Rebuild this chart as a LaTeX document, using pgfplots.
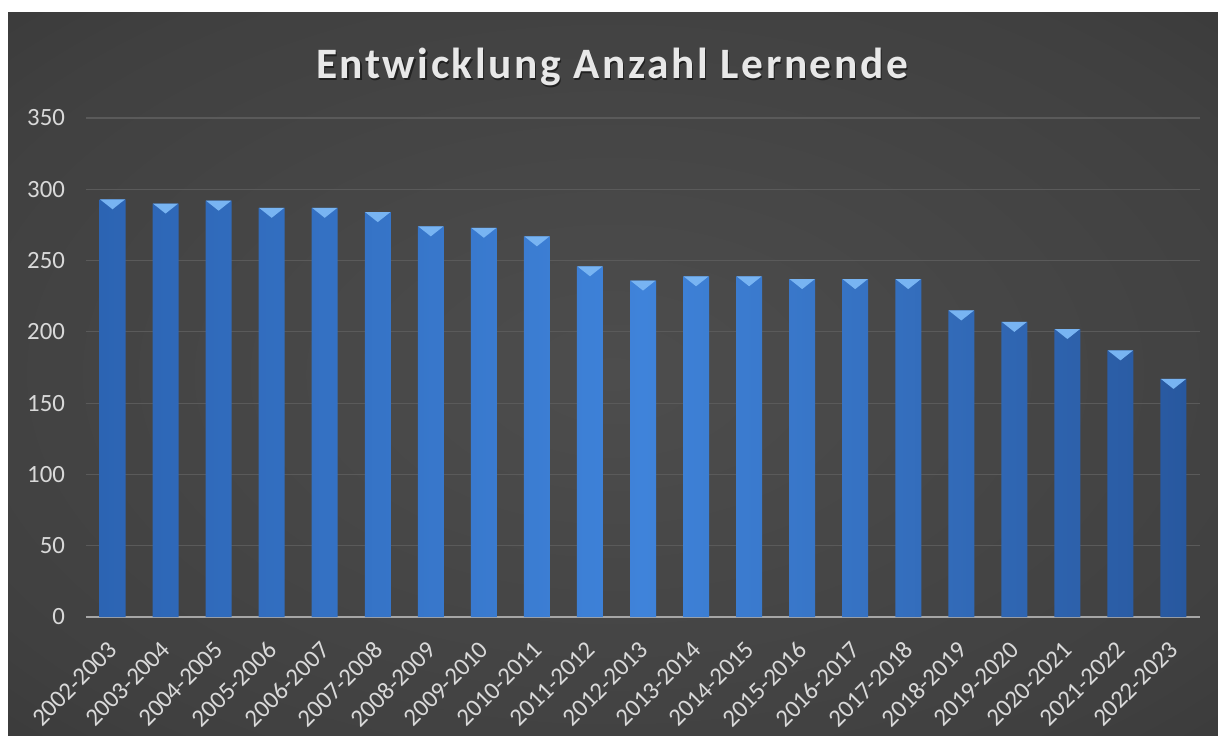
\documentclass[border=0pt]{standalone}
\usepackage{fontspec}
\setmainfont{Carlito}
\usepackage{pgfplots}
\pgfplotsset{compat=1.18}
\definecolor{bgin}{HTML}{4D4D4D}
\definecolor{bgmid}{HTML}{404040}
\definecolor{bgout}{HTML}{1F1F1F}
\definecolor{gridc}{HTML}{5A5A5A}
\definecolor{axisc}{HTML}{A6A6A6}
\definecolor{tickc}{HTML}{D9D9D9}
\definecolor{barL}{HTML}{2C64B3}
\definecolor{barM}{HTML}{3F83DA}
\definecolor{barR}{HTML}{28589F}
\definecolor{bevelc}{HTML}{78B4F2}
\pgfdeclareradialshading{bgshade}{\pgfpoint{0bp}{0bp}}{color(0bp)=(bgin); color(30bp)=(bgmid); color(71bp)=(bgout)}
\pgfdeclareplotmark{bevel}{%
  \pgfpathmoveto{\pgfqpoint{-6.3pt}{0pt}}%
  \pgfpathlineto{\pgfqpoint{6.3pt}{0pt}}%
  \pgfpathlineto{\pgfqpoint{0pt}{-5pt}}%
  \pgfpathclose
  \pgfusepathqfill}
\begin{document}
\begin{tikzpicture}
\useasboundingbox (0,0) rectangle (609pt,367.5pt);
\fill[white] (0,0) rectangle (609pt,367.5pt);
\shade[shading=bgshade] (4pt,0) rectangle (609pt,361pt);
\node[text=black, opacity=0.5, font=\fontsize{21.7}{26}\selectfont\bfseries\addfontfeatures{LetterSpace=6}, anchor=base] at (306.6pt,327.4pt) {Entwicklung Anzahl Lernende};
\node[text=tickc!60!white, font=\fontsize{21.7}{26}\selectfont\bfseries\addfontfeatures{LetterSpace=6}, anchor=base] at (306pt,328pt) {Entwicklung Anzahl Lernende};
\begin{axis}[
  scale only axis,
  width=557pt, height=249.5pt,
  at={(43pt,59pt)}, anchor=south west,
  xmin=-0.5, xmax=20.5,
  ymin=0, ymax=350,
  ytick={0,50,...,350},
  xtick={0,...,20},
  xticklabels={2002-2003,2003-2004,2004-2005,2005-2006,2006-2007,2007-2008,2008-2009,2009-2010,2010-2011,2011-2012,2012-2013,2013-2014,2014-2015,2015-2016,2016-2017,2017-2018,2018-2019,2019-2020,2020-2021,2021-2022,2022-2023},
  /pgf/number format/assume math mode=true,
  ticklabel style={text=tickc, font=\fontsize{12.4}{14}\selectfont},
  yticklabel style={xshift=-7pt},
  xticklabel style={rotate=45, anchor=north east, inner sep=2pt, xshift=-7.8pt, yshift=-4pt},
  major tick length=0pt,
  ymajorgrids,
  grid style={gridc, line width=0.6pt},
  axis x line*=bottom,
  axis y line*=left,
  y axis line style={draw=none},
  x axis line style={draw=axisc, line width=1.3pt, -},
  clip=false,
]
\addplot[ybar, bar width=13pt, draw=none, left color=barL, right color=barR, middle color=barM]
coordinates {(0,293) (1,290) (2,292) (3,287) (4,287) (5,284) (6,274) (7,273) (8,267) (9,246) (10,236) (11,239) (12,239) (13,237) (14,237) (15,237) (16,215) (17,207) (18,202) (19,187) (20,167)};
\addplot[only marks, mark=bevel, mark options={fill=bevelc, draw=none}]
coordinates {(0,293) (1,290) (2,292) (3,287) (4,287) (5,284) (6,274) (7,273) (8,267) (9,246) (10,236) (11,239) (12,239) (13,237) (14,237) (15,237) (16,215) (17,207) (18,202) (19,187) (20,167)};
\end{axis}
\end{tikzpicture}
\end{document}
